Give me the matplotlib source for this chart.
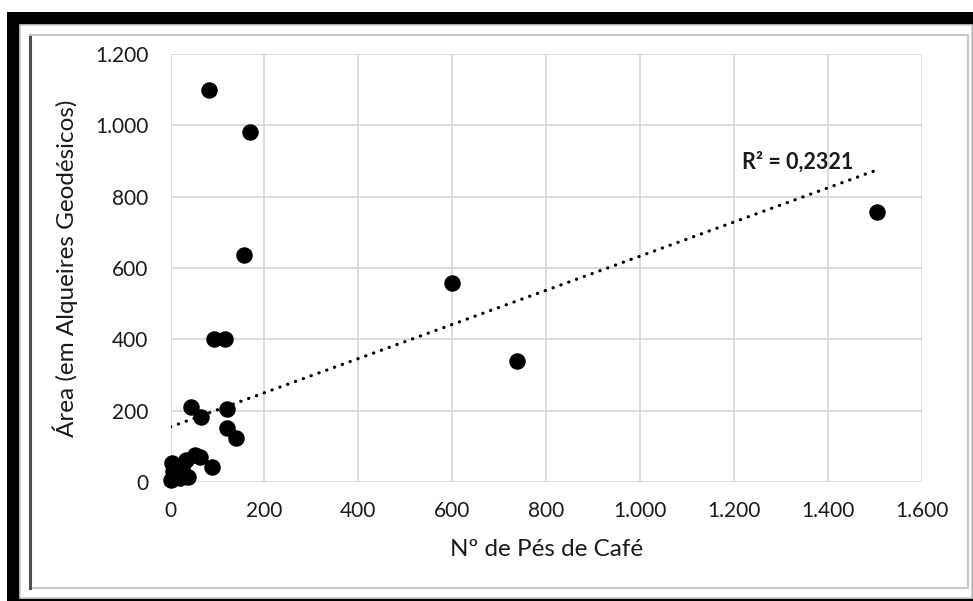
import matplotlib

matplotlib.use("Agg")
import matplotlib.pyplot as plt
import matplotlib.patches as mpatches
import numpy as np
from matplotlib.ticker import FuncFormatter, MultipleLocator

# Values (nº de pés de café vs área em alqueires)
pes_cafe = [83, 170, 157, 93, 117, 43, 65, 120, 121, 139,
            3, 0, 13, 34, 52, 63, 38, 88, 24,
            5, 8, 12, 15, 6, 10, 20,
            600, 737, 1504]
area = [1100, 980, 636, 400, 400, 211, 181, 204, 152, 122,
        52, 6, 29, 62, 76, 71, 15, 41, 39,
        10, 20, 15, 25, 30, 18, 12,
        557, 339, 756]
r2_label = "R² = 0,2321"

x_ticks = [0, 200, 400, 600, 800, 1000, 1200, 1400, 1600]
y_ticks = [0, 200, 400, 600, 800, 1000, 1200]

plt.rcParams["font.family"] = ["Lato", "DejaVu Sans"]

W, H = 973, 601
fig = plt.figure(figsize=(W / 100, H / 100), dpi=100, facecolor="white")


def px_rect(x0, y0, x1, y1, **kw):
    # rectangle in pixel coordinates measured from the top-left corner
    r = mpatches.Rectangle((x0 / W, 1 - y1 / H), (x1 - x0) / W, (y1 - y0) / H,
                           transform=fig.transFigure, **kw)
    fig.patches.append(r)


# black outer frame and bevelled white panel
px_rect(7, 12, 985, 615, facecolor="black", edgecolor="none", zorder=-5)
px_rect(20, 25, 972, 598, facecolor="white", edgecolor="#d0d0d0", linewidth=1.2, zorder=-4)
px_rect(30, 35, 968, 588, facecolor="white", edgecolor="#c8c8c8", linewidth=1.5, zorder=-3)
fig.add_artist(plt.Line2D([30 / W, 30 / W], [1 - 588 / H, 1 - 37 / H],
                          transform=fig.transFigure, color="#505050", linewidth=2.2))

ax = fig.add_axes([170.5 / W, 1 - 482 / H, 751.5 / W, 428 / H])
ax.set_facecolor("none")
ax.set_xlim(x_ticks[0], x_ticks[-1])
ax.set_ylim(y_ticks[0], y_ticks[-1])
ax.xaxis.set_major_locator(MultipleLocator(200))
ax.yaxis.set_major_locator(MultipleLocator(200))
fmt = FuncFormatter(lambda v, p: f"{v:,.0f}".replace(",", "."))
ax.xaxis.set_major_formatter(fmt)
ax.yaxis.set_major_formatter(fmt)
ax.grid(True, color="#d9d9d9", linewidth=1.3)
ax.set_axisbelow(True)
for s in ax.spines.values():
    s.set_visible(False)
ax.tick_params(length=0, labelsize=15, colors="#1a1a1a")
ax.tick_params(axis="x", pad=14)
ax.tick_params(axis="y", pad=16)

ax.scatter(pes_cafe, area, s=118, color="black", zorder=3, clip_on=False)

# linear trendline over the data range
coef = np.polyfit(pes_cafe, area, 1)
tx = np.array([min(pes_cafe), max(pes_cafe)])
ax.plot(tx, np.polyval(coef, tx), color="black", linewidth=2.3,
        linestyle=(0, (0.1, 2.5)), dash_capstyle="round", zorder=2)
ax.text(1335, 897, r2_label, fontsize=15.5, fontweight="bold", ha="center", va="center",
        color="#1a1a1a")

ax.set_xlabel("Nº de Pés de Café", fontsize=17.5, color="#1a1a1a", labelpad=13)
ax.set_ylabel("Área (em Alqueires Geodésicos)", fontsize=17.5, color="#1a1a1a", labelpad=12)

fig.savefig("out.png", dpi=100, facecolor="white")
